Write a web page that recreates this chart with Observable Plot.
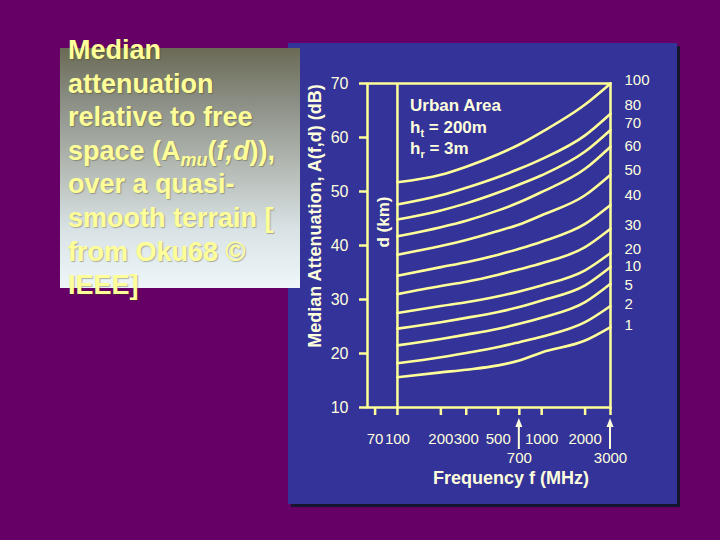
<!DOCTYPE html>
<html>
<head>
<meta charset="utf-8">
<script src="https://cdn.jsdelivr.net/npm/d3@7"></script>
<script src="https://cdn.jsdelivr.net/npm/@observablehq/plot@0.6"></script>
<style>
  html, body { margin: 0; padding: 0; }
  body { width: 720px; height: 540px; overflow: hidden; background: #660066; }
  #page { position: relative; width: 720px; height: 540px; background: #660066; font-family: "Liberation Sans", Arial, sans-serif; }
  #panel { position: absolute; left: 288px; top: 43px; width: 389px; height: 461px; background: #333399; box-shadow: 3px 3px 0 #15152e; }
  #chart { position: absolute; left: 0; top: 0; }
  #box { position: absolute; left: 60px; top: 48px; width: 240px; height: 240px;
         background: linear-gradient(to bottom, #6a6a55 0%, #8f938a 25%, #b4bab4 50%, #d8e2e4 75%, #eef6fa 100%); }
  #note { position: absolute; left: 68px; top: 34px; font-weight: bold; font-size: 27px; line-height: 33.6px;
          color: #ffff99; text-shadow: 1px 1px 1px rgba(60,60,20,0.35); white-space: nowrap; }
  #note sub { font-size: 18px; vertical-align: -6px; line-height: 0; }
</style>
</head>
<body>
<div id="page">
  <div id="panel"></div>
  <div id="chart"></div>
  <div id="box"></div>
  <div id="note">Median<br>attenuation<br>relative to free<br>space (A<sub><i>mu</i></sub>(<i>f,d</i>)),<br>over a quasi-<br>smooth terrain [<br>from Oku68 ©<br>IEEE]</div>
</div>
<script>
// ---- data ----
const freqs = [100, 200, 300, 500, 700, 1000, 2000, 3000];           // MHz
const distances = [100, 80, 70, 60, 50, 40, 30, 20, 10, 5, 2, 1];   // km
const A_d100 = [51.7, 53.1, 54.6, 56.9, 58.7, 61.0, 66.1, 70.0];
const A_d80  = [47.6, 49.3, 50.7, 52.7, 54.2, 56.0, 60.4, 64.4];
const A_d70  = [44.8, 46.5, 47.8, 49.8, 51.3, 53.0, 57.4, 61.4];
const A_d60  = [41.7, 43.4, 44.6, 46.5, 48.0, 49.9, 54.2, 58.3];
const A_d50  = [38.3, 39.9, 41.0, 42.7, 43.9, 45.6, 49.3, 53.1];
const A_d40  = [34.4, 36.0, 36.9, 38.3, 39.4, 40.7, 44.0, 47.5];
const A_d30  = [31.0, 32.5, 33.3, 34.6, 35.6, 36.7, 39.7, 43.1];
const A_d20  = [27.5, 28.8, 29.5, 30.6, 31.5, 32.6, 35.4, 38.6];
const A_d10  = [24.6, 25.8, 26.6, 27.7, 28.6, 29.8, 32.6, 36.0];
const A_d5   = [21.5, 22.7, 23.5, 24.6, 25.5, 26.6, 29.5, 32.9];
const A_d2   = [18.2, 19.3, 20.1, 21.2, 22.1, 23.1, 25.8, 28.8];
const A_d1   = [15.6, 16.5, 17.0, 17.8, 18.7, 20.2, 22.4, 24.9];
// level (dB) at which each distance label is printed beside the 3000 MHz edge
const labelLevels = [70.7, 65.9, 62.65, 58.3, 53.9, 49.4, 43.8, 39.4, 36.1, 32.7, 29.2, 25.2];
const yTicks = [10, 20, 30, 40, 50, 60, 70];
const xTicks = [70, 100, 200, 300, 500, 700, 1000, 2000, 3000];
const xTickLabelsRow1 = [70, 100, 200, 300, 500, 1000, 2000];
const xTickLabelsRow2 = [700, 3000];

// ---- build tables ----
const series = [A_d100, A_d80, A_d70, A_d60, A_d50, A_d40, A_d30, A_d20, A_d10, A_d5, A_d2, A_d1];
const rows = [];
series.forEach((vals, i) => vals.forEach((a, j) => rows.push({d: distances[i], f: freqs[j], A: a})));
const labels = distances.map((d, i) => ({d, f: freqs[freqs.length - 1], A: labelLevels[i]}));

const lineColor = "#ffff99";
const textColor = "#ffffdd";

const chart = Plot.plot({
  width: 720,
  height: 540,
  marginLeft: 367,
  marginRight: 110,
  marginTop: 83,
  marginBottom: 133,
  style: {background: "transparent", color: textColor, fontFamily: "'Liberation Sans', Arial, sans-serif", overflow: "visible"},
  x: {type: "log", domain: [62, 3000]},
  y: {domain: [10, 70]},
  marks: [
    Plot.frame({stroke: lineColor, strokeWidth: 2.5}),
    Plot.ruleX([100], {stroke: lineColor, strokeWidth: 2.5}),
    Plot.axisY({ticks: yTicks, tickSize: 8, tickPadding: 11, stroke: lineColor, strokeWidth: 2.5, fill: textColor, fontSize: 16, label: null}),
    Plot.axisX({ticks: xTicks, tickSize: 8, tickPadding: 18, stroke: lineColor, strokeWidth: 2.5, fill: textColor, fontSize: 15, label: null,
                tickFormat: () => ""}),
    Plot.text(xTickLabelsRow1, {x: d => d, text: d => String(d), frameAnchor: "bottom", lineAnchor: "top", dy: 26, fill: textColor, fontSize: 15}),
    Plot.text(xTickLabelsRow2, {x: d => d, text: d => String(d), frameAnchor: "bottom", lineAnchor: "top", dy: 45, fill: textColor, fontSize: 15}),
    Plot.line(rows, {x: "f", y: "A", z: "d", stroke: lineColor, strokeWidth: 2.6, curve: "monotone-x"}),
    Plot.text(labels, {x: "f", y: "A", text: d => String(d.d), dx: 14, textAnchor: "start", fill: textColor, fontSize: 15})
  ]
});
document.getElementById("chart").appendChild(chart);

// ---- annotations ----
const svg = d3.select(chart);
const sx = chart.scale("x");
const g = svg.append("g").attr("font-family", "'Liberation Sans', Arial, sans-serif").attr("text-anchor", "start");

// arrows pointing at 700 and 3000
xTickLabelsRow2.forEach(v => {
  const x = sx.apply(v);
  g.append("line").attr("x1", x).attr("x2", x).attr("y1", 449).attr("y2", 425)
    .attr("stroke", textColor).attr("stroke-width", 2);
  g.append("path").attr("d", `M${x - 3.5},${427} L${x + 3.5},${427} L${x},${418} Z`).attr("fill", textColor);
});

// axis titles
g.append("text").attr("transform", "translate(321,216) rotate(-90)").attr("text-anchor", "middle")
  .attr("font-size", 18).attr("font-weight", "bold").attr("fill", textColor)
  .text("Median Attenuation, A(f,d) (dB)");
g.append("text").attr("transform", "translate(389,222) rotate(-90)").attr("text-anchor", "middle")
  .attr("font-size", 17).attr("font-weight", "bold").attr("fill", textColor)
  .text("d (km)");
g.append("text").attr("x", 511).attr("y", 484).attr("text-anchor", "middle")
  .attr("font-size", 18).attr("font-weight", "bold").attr("fill", textColor)
  .text("Frequency f (MHz)");

// in-plot legend text
const ann = g.append("g").attr("font-size", 17).attr("font-weight", "bold").attr("fill", textColor).attr("text-anchor", "start");
ann.append("text").attr("x", 410).attr("y", 111).text("Urban Area");
const t1 = ann.append("text").attr("x", 410).attr("y", 133);
t1.append("tspan").text("h");
t1.append("tspan").attr("font-size", 11).attr("dy", 4).text("t");
t1.append("tspan").attr("dy", -4).text(" = 200m");
const t2 = ann.append("text").attr("x", 410).attr("y", 154);
t2.append("tspan").text("h");
t2.append("tspan").attr("font-size", 11).attr("dy", 4).text("r");
t2.append("tspan").attr("dy", -4).text(" = 3m");
</script>
</body>
</html>
